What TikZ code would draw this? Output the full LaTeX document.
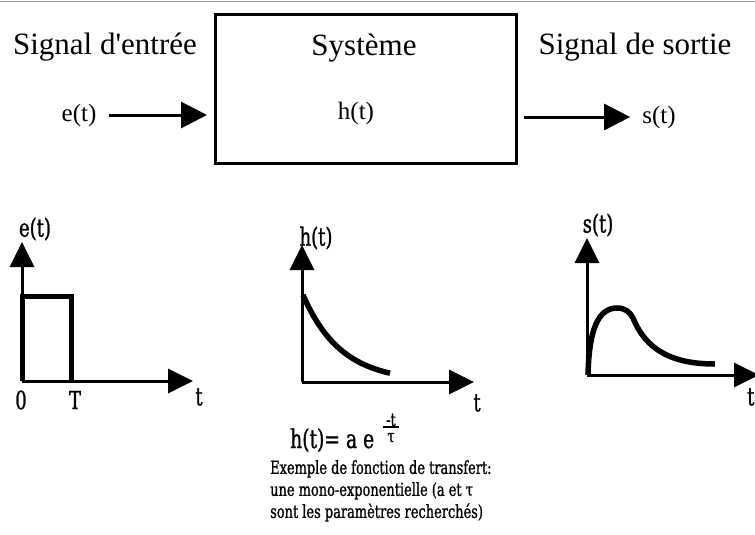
\documentclass[tikz,border=0pt]{standalone}
\usepackage{fontspec}
\setmainfont{Liberation Serif}[Ligatures=TeXOff]
\newfontfamily\capfont[FakeStretch=0.72,FakeBold=1]{DejaVu Serif}
\usetikzlibrary{arrows.meta}
\begin{document}
\begin{tikzpicture}[x=1pt,y=-1pt,
  title/.style={font=\fontsize{31}{36}\selectfont, inner sep=0pt},
  sig/.style={font=\fontsize{25}{28}\selectfont, inner sep=0pt},
  lab/.style={font=\capfont\fontsize{25}{28}\selectfont, inner sep=0pt},
  captxt/.style={font=\capfont\fontsize{18}{22}\selectfont, inner sep=0pt, align=left},
  flow/.style={line width=3pt, -{Triangle[length=26pt,width=26pt]}},
  axis/.style={line width=3pt, -{Triangle[length=25pt,width=24pt]}},
  curve/.style={line width=5.5pt},
]
\useasboundingbox (0,0) rectangle (755,535);
\fill[white] (0,0) rectangle (755,535);
% top border line
\coordinate (tl) at (0,1.5);
\coordinate (tr) at (755,1.5);
\draw[gray!80, line width=1.5pt] (tl) -- (tr);

% system block
\node[draw, line width=3pt, minimum width=301pt, minimum height=148pt, inner sep=0pt] (sys) at (366,89) {};
\node[title, anchor=base] (tin) at (105,55) {Signal d'entrée};
\node[title, anchor=base] (tsys) at (364,56) {Système};
\node[title, anchor=base] (tout) at (635,55) {Signal de sortie};
\node[sig] (et) at (79,115) {e(t)};
\node[sig] (ht) at (356,113) {h(t)};
\node[sig] (st) at (659,117) {s(t)};
\draw[flow] ([xshift=12pt]et.east) -- ([xshift=-7pt]sys.west |- et.center);
\draw[flow] ([xshift=6pt]sys.east |- st.center) -- ([xshift=-12pt]st.west);

% graph e(t)
\coordinate (o1) at (22,381);
\coordinate (y1) at (22,242);
\coordinate (x1) at (193,381);
\coordinate (p1) at (22,296);
\coordinate (p2) at (71,296);
\coordinate (p3) at (71,381);
\draw[axis] (o1) -- (y1);
\draw[axis] (o1) -- (x1);
\draw[line width=5pt, line join=miter] (o1) -- (p1) -- (p2) -- (p3);
\node[lab] (le) at (35,229) {e(t)};
\node[lab] (l0) at (21,400) {0};
\node[lab] (lT) at (75,400) {T};
\node[lab] (lt1) at (199,397) {t};

% graph h(t)
\coordinate (o2) at (302,382);
\coordinate (y2) at (302,245);
\coordinate (x2) at (474,382);
\draw[axis] (o2) -- (y2);
\draw[axis] (o2) -- (x2);
\draw[curve, domain=303:390, samples=40] plot (\x, {382 - 87*exp(-(\x-303)/38)});
\node[lab] (lh) at (316,238) {h(t)};
\node[lab] (lt2) at (477,403) {t};

% graph s(t)
\coordinate (o3) at (587,375);
\coordinate (y3) at (587,238);
\coordinate (x3) at (759,375);
\draw[axis] (o3) -- (y3);
\draw[axis] (o3) -- (x3);
\draw[curve] (588,375) .. controls (589,330) and (598,308) .. (617,308)
  .. controls (625,308) and (630,312) .. (633,318)
  .. controls (646,350) and (672,364) .. (715,364);
\node[lab] (ls) at (598,225) {s(t)};
\node[lab, anchor=west] (lt3) at (747,397) {t};

% formula and caption
\node[font=\capfont\fontsize{26}{28}\selectfont, inner sep=0pt, anchor=base west] (form) at (290,448) {h(t)= a e};
\node[font=\capfont\fontsize{18}{18}\selectfont, inner sep=0pt] (fnum) at (391,420) {-t};
\node[font=\capfont\fontsize{18}{18}\selectfont, inner sep=0pt] (fden) at (391,438) {τ};
\draw[line width=2pt] ([xshift=-8pt,yshift=-1pt]fnum.south) -- ([xshift=8pt,yshift=-1pt]fnum.south);
\node[captxt, anchor=north west] (caption) at (270,460) {Exemple de fonction de transfert:\\une mono-exponentielle (a et τ\\sont les paramètres recherchés)};
\end{tikzpicture}
\end{document}
